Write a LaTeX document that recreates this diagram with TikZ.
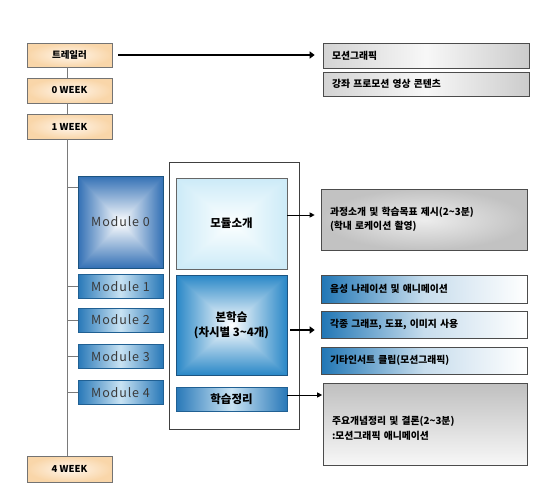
\documentclass[tikz,border=0pt]{standalone}
\usepackage{fontspec}
\setmainfont{Noto Sans CJK KR}
\newfontfamily\modfont[LetterSpace=7]{Noto Sans CJK KR}
\usetikzlibrary{arrows.meta}
\definecolor{peachin}{HTML}{FFF6EC}
\definecolor{peachout}{HTML}{F9D6A9}
\definecolor{modblue}{HTML}{2878B8}
\definecolor{modlight}{HTML}{C9E3F3}
\definecolor{barblue}{HTML}{2076B5}
\definecolor{spinegray}{HTML}{7A7A7A}
\definecolor{modtext}{HTML}{3A3A3A}
% square (rectangular) gradient shadings, white centre
\pgfdeclarefunctionalshading{sqmod}{\pgfpoint{-50bp}{-50bp}}{\pgfpoint{50bp}{50bp}}{}{
  abs exch abs 2 copy sub abs 3 1 roll add add 50 div
  dup 0.80 mul 1 exch sub
  exch dup 0.56 mul 1 exch sub
  exch 0.29 mul 1 exch sub
}
\pgfdeclarefunctionalshading{sqbh}{\pgfpoint{-50bp}{-50bp}}{\pgfpoint{50bp}{50bp}}{}{
  abs exch abs 2 copy sub abs 3 1 roll add add 50 div
  dup 0.84 mul 1 exch sub
  exch dup 0.47 mul 1 exch sub
  exch 0.22 mul 1 exch sub
}
\pgfdeclarefunctionalshading{sqcyan}{\pgfpoint{-50bp}{-50bp}}{\pgfpoint{50bp}{50bp}}{}{
  abs exch abs 2 copy sub abs 3 1 roll add add 50 div
  dup 0.19 mul 0.99 exch sub
  exch dup 0.08 mul 1 exch sub
  exch 0.03 mul 1 exch sub
}
\begin{document}
\begin{tikzpicture}[x=1pt,y=-1pt,
  weekbox/.style={draw=black!55, line width=0.6pt, inner color=peachin, outer color=peachout,
    minimum width=85pt, minimum height=24pt, inner sep=0pt, font=\fontsize{9.5}{11}\selectfont\bfseries},
  spine/.style={draw=spinegray, line width=0.9pt},
  modbox/.style={draw=modblue!80!black, line width=0.4pt, left color=modblue, right color=modblue,
    middle color=modlight, minimum width=85pt, minimum height=24pt, inner sep=0pt,
    font=\modfont\fontsize{12.5}{14}\selectfont, text=modtext},
  framebox/.style={draw=black!75, line width=0.6pt, fill=white, inner sep=0pt},
  rbox/.style={draw=black!70, line width=0.6pt, text width=188pt, inner xsep=9pt, inner ysep=0pt,
    align=left, font=\fontsize{9.8}{14.5}\selectfont\bfseries},
  graybox/.style={rbox, left color=black!17, right color=black!20, middle color=white!97!black,
    minimum height=25pt},
  graybox2/.style={rbox, inner color=black!7, outer color=black!24},
  graybox3/.style={rbox, top color=black!25, bottom color=black!3},
  bluebox/.style={rbox, left color=barblue, right color=white, middle color=barblue!25!white},
  thinarrow/.style={draw=black, line width=0.9pt, -{Triangle[length=5pt,width=5pt]}},
  thickarrow/.style={draw=black, line width=2.6pt, -{Triangle[length=5pt,width=7pt]}}
]
\useasboundingbox (0,0) rectangle (542,485);

% week column
\node[weekbox] (tr) at (69.5,55) {트레일러};
\node[weekbox, minimum height=25pt] (w0) at (69.5,90.5) {0 WEEK};
\node[weekbox, minimum height=25pt] (w1) at (69.5,126.5) {1 WEEK};
\node[weekbox, minimum height=26pt] (w4) at (69.5,469) {4 WEEK};
\coordinate (sx) at (67,0);
\draw[spine] (tr.south -| sx) -- (w0.north -| sx);
\draw[spine] (w0.south -| sx) -- (w1.north -| sx);
\draw[spine] (w1.south -| sx) -- (w4.north -| sx);

% frame
\node[framebox, minimum width=130pt, minimum height=267pt] (fr) at (234,295.5) {};

% modules
\node[shading=sqmod, draw=modblue!70!black, line width=0.4pt, minimum width=85pt, minimum height=92pt,
  inner sep=0pt, font=\modfont\fontsize{12.5}{14}\selectfont, text=modtext] (m0) at (120.5,222) {Module 0};
\node[modbox] (m1) at (120.5,286.5) {Module 1};
\node[modbox] (m2) at (120.5,320) {Module 2};
\node[modbox] (m3) at (120.5,356.5) {Module 3};
\node[modbox] (m4) at (120.5,392.5) {Module 4};
\coordinate (m0c) at (0,187);
\draw[spine] (m0c -| sx) -- (m0c -| m0.west);
\draw[spine] (m1.west -| sx) -- (m1.west);
\draw[spine] (m2.west -| sx) -- (m2.west);
\draw[spine] (m3.west -| sx) -- (m3.west);
\draw[spine] (m4.west -| sx) -- (m4.west);

% inner column
\node[shading=sqcyan, draw=black!60, line width=0.5pt, minimum width=111pt, minimum height=91pt,
  inner sep=0pt, font=\fontsize{11.5}{13}\selectfont\bfseries] (ms) at (231.5,223.5) {모듈소개};
\node[shading=sqbh, draw=modblue!70!black, line width=0.4pt, minimum width=111pt, minimum height=100pt,
  inner sep=0pt, align=center, font=\fontsize{11.5}{15}\selectfont\bfseries] (bh) at (231.5,325)
  {본학습\\(차시별 3\textasciitilde 4개)};
\node[modbox, minimum width=111pt, font=\fontsize{11.5}{13}\selectfont\bfseries, text=black] (hj) at (231.5,399) {학습정리};

% right column
\node[graybox] (mg) at (426,55.5) {모션그래픽};
\node[graybox, minimum height=24pt] (gj) at (426,84) {강좌 프로모션 영상 콘텐츠};
\node[graybox2, minimum height=61pt] (gs) at (424,219.5) {과정소개 및 학습목표 제시(2\textasciitilde 3분)\\(학내 로케이션 촬영)};
\node[bluebox, minimum height=28pt] (ys) at (424,289) {음성 나레이션 및 애니메이션};
\node[bluebox, minimum height=27pt] (gg) at (424,324.5) {각종 그래프, 도표, 이미지 사용};
\node[bluebox, minimum height=27pt] (gt) at (424,360.5) {기타인서트 클립(모션그래픽)};
\node[graybox3, minimum height=82pt, text width=186pt] (jy) at (425,424) {\\[2pt]주요개념정리 및 결론(2\textasciitilde 3분)\\:모션그래픽 애니메이션};

% arrows
\draw[thickarrow, shorten <=6pt, shorten >=8pt] (tr.east) -- (tr.east -| mg.west);
\coordinate (a2) at (0,215);
\draw[thinarrow, shorten >=6pt] (ms.east |- a2) -- (gs.west |- a2);
\coordinate (a3) at (0,330);
\draw[thickarrow, shorten <=3pt, shorten >=6pt] (bh.east |- a3) -- (gg.west |- a3);
\coordinate (a4) at (0,395);
\draw[thinarrow, shorten >=0.5pt] (hj.east |- a4) -- (jy.west |- a4);
\end{tikzpicture}
\end{document}
